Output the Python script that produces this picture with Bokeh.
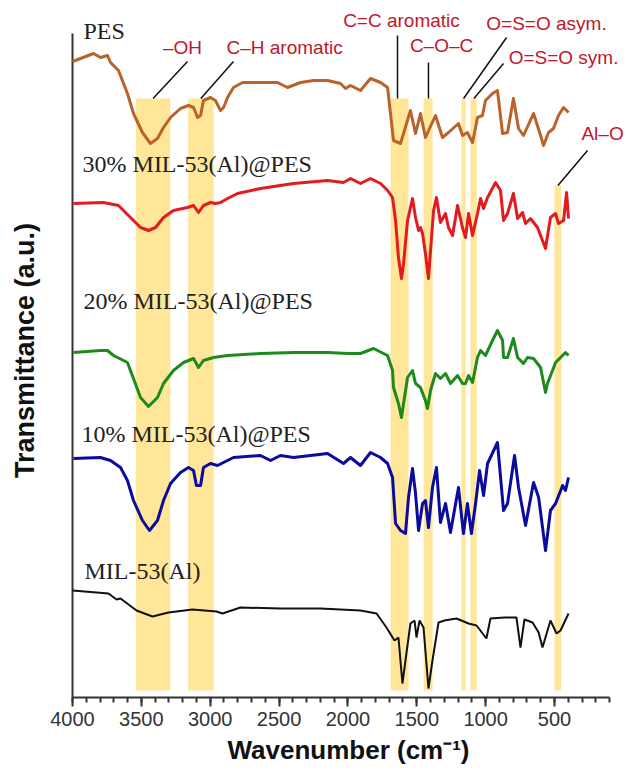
from bokeh.plotting import figure
from bokeh.models import Range1d, FixedTicker, Label
from bokeh.embed import file_html
from bokeh.resources import INLINE

# ---------------- data (wavenumber cm-1, transmittance a.u.) ----------------
pes_wn = [4000, 3942, 3847, 3797, 3746, 3724, 3666, 3601, 3557, 3492, 3434, 3383, 3339, 3288, 3216, 3158,
          3121, 3092, 3070, 3049, 2998, 2962, 2925, 2903, 2874, 2831, 2765, 2635, 2511, 2439, 2344, 2250,
          2148, 2054, 2017, 1981, 1909, 1836, 1763, 1712, 1669, 1618, 1546, 1509, 1473, 1437, 1364, 1313,
          1270, 1197, 1168, 1132, 1095, 1059, 1023, 1001, 950, 914, 877, 841, 798, 761, 725, 652, 601,
          580, 543, 507, 471, 434, 398]
pes_t = [636, 639, 644, 640, 642, 635, 627, 604, 584, 565, 554, 559, 570, 580, 589, 592,
         590, 580, 582, 597, 600, 597, 587, 590, 600, 610, 615, 615, 615, 610, 615, 617,
         617, 614, 609, 612, 607, 619, 615, 610, 557, 554, 587, 564, 584, 560, 582, 560,
         565, 574, 562, 565, 555, 580, 582, 597, 604, 607, 564, 565, 599, 569, 562, 584, 562,
         552, 565, 569, 582, 590, 585]

m30_wn = [3993, 3775, 3666, 3579, 3506, 3448, 3397, 3339, 3267, 3165, 3121, 3085, 3049, 2998, 2962, 2925,
          2874, 2802, 2635, 2395, 2148, 2032, 1981, 1909, 1836, 1763, 1712, 1676, 1654, 1633, 1611, 1596,
          1567, 1531, 1509, 1487, 1473, 1458, 1437, 1415, 1400, 1378, 1357, 1328, 1291, 1270, 1240, 1204,
          1168, 1146, 1124, 1095, 1059, 1037, 1015, 986, 928, 892, 870, 841, 798, 768, 732, 710, 674,
          623, 565, 529, 492, 471, 434, 412, 398]
m30_t = [494, 495, 492, 480, 470, 467, 470, 480, 487, 490, 492, 485, 492, 495, 494, 495,
         499, 504, 509, 514, 517, 515, 519, 514, 519, 514, 507, 500, 477, 440, 419, 434,
         477, 499, 480, 467, 470, 464, 444, 419, 447, 487, 500, 475, 484, 470, 462, 492,
         470, 460, 484, 462, 484, 499, 489, 500, 515, 507, 477, 484, 504, 479, 485, 474, 479,
         470, 449, 480, 484, 474, 477, 505, 479]

m20_wn = [3993, 3797, 3746, 3702, 3601, 3579, 3506, 3448, 3383, 3339, 3267, 3194, 3121, 3085, 3049, 2976,
          2874, 2635, 2395, 2148, 2003, 1909, 1814, 1712, 1676, 1669, 1633, 1611, 1596, 1567, 1531, 1509,
          1473, 1437, 1422, 1400, 1364, 1328, 1291, 1255, 1204, 1168, 1146, 1124, 1095, 1059, 1037, 1001,
          950, 914, 877, 870, 841, 798, 768, 725, 696, 652, 601, 565, 551, 514, 492, 456, 420, 398]
m20_t = [345, 347, 347, 342, 335, 327, 300, 291, 300, 314, 327, 335, 339, 330, 337, 340,
         342, 344, 345, 345, 344, 344, 349, 342, 327, 310, 294, 280, 294, 320, 327, 314,
         310, 297, 289, 307, 324, 319, 324, 314, 322, 314, 314, 322, 315, 340, 347, 342,
         357, 367, 357, 340, 340, 359, 340, 334, 340, 339, 330, 305, 314, 327, 335, 340, 345, 342]

m10_wn = [3993, 3797, 3724, 3651, 3601, 3557, 3492, 3441, 3383, 3339, 3288, 3216, 3158, 3121, 3100, 3070,
          3049, 2998, 2947, 2831, 2635, 2562, 2490, 2395, 2148, 2032, 1981, 1909, 1836, 1763, 1712, 1676,
          1654, 1618, 1582, 1560, 1531, 1509, 1487, 1458, 1437, 1415, 1386, 1357, 1328, 1291, 1255, 1197,
          1161, 1132, 1103, 1073, 1044, 1015, 986, 914, 870, 841, 790, 761, 710, 652, 615, 565, 529,
          492, 441, 420, 398]
m10_t = [239, 240, 237, 230, 217, 197, 177, 167, 177, 197, 214, 225, 230, 227, 212, 212,
         230, 234, 232, 240, 242, 237, 242, 240, 244, 234, 240, 232, 245, 240, 234, 220,
         174, 167, 164, 200, 229, 204, 167, 194, 197, 170, 210, 230, 175, 194, 165, 210,
         164, 194, 164, 194, 227, 202, 234, 255, 187, 194, 242, 210, 172, 215, 200, 147, 187,
         194, 212, 207, 220]

mil_wn = [4000, 3739, 3680, 3651, 3535, 3419, 3303, 3129, 2954, 2911, 2780, 2490, 2199, 1909, 1792, 1720,
          1662, 1633, 1604, 1582, 1546, 1516, 1502, 1480, 1451, 1415, 1386, 1342, 1299, 1211, 1124, 1066,
          994, 965, 863, 776, 747, 718, 659, 615, 587, 529, 485, 456, 398]
mil_t = [107, 104, 98, 99, 87, 81, 85, 88, 86, 84, 90, 89, 89, 87, 84, 70,
         57, 60, 14, 37, 74, 77, 60, 77, 70, 9, 37, 75, 77, 79, 74, 72,
         59, 79, 80, 80, 50, 78, 75, 65, 50, 77, 64, 67, 84]

# highlighted bands (cm-1)
band_names = ["-OH", "C-H aromatic", "C=C aromatic", "C-O-C", "O=S=O asym.", "O=S=O sym.", "Al-O"]
band_hi = [3540, 3160, 1690, 1450, 1175, 1110, 500]
band_lo = [3290, 2975, 1560, 1385, 1145, 1065, 450]

series_names = ["PES", "30% MIL-53(Al)@PES", "20% MIL-53(Al)@PES", "10% MIL-53(Al)@PES", "MIL-53(Al)"]
x_ticks = [4000, 3500, 3000, 2500, 2000, 1500, 1000, 500]
X_START, X_END = 4000, 100      # drawn x axis extent
Y_TOP = 664                     # drawn y axis extent (a.u.)

# ---------------- layout / styles ----------------
BAND_TOP = [599, 599, 599, 599, 599, 599, 512]
BAND_BOTTOM = 7
band_color = "#FFE699"
ann_color = "#C0172D"
axis_color = "#333333"

p = figure(width=626, height=771, x_range=Range1d(4014.5, -23), y_range=Range1d(-3, 697),
           output_backend="svg", toolbar_location=None,
           min_border_left=70, min_border_right=0, min_border_top=0, min_border_bottom=71)
p.outline_line_color = None
p.xgrid.visible = False
p.ygrid.visible = False
p.background_fill_color = "white"
p.border_fill_color = "white"

# bands
p.quad(left=band_hi, right=band_lo, top=BAND_TOP, bottom=[BAND_BOTTOM] * len(band_hi),
       fill_color=band_color, line_color=None)

# axis lines (drawn so that they stop where the reference's axes stop)
p.segment(x0=[X_START, X_START], y0=[0, 0], x1=[X_END, X_START], y1=[0, Y_TOP],
          line_color=axis_color, line_width=2)

# spectra
p.line(mil_wn, mil_t, line_color="#111111", line_width=2)
p.line(m10_wn, m10_t, line_color="#0B0B9C", line_width=3, line_join="round")
p.line(m20_wn, m20_t, line_color="#1E8A1E", line_width=3, line_join="round")
p.line(m30_wn, m30_t, line_color="#E31B1F", line_width=3, line_join="round")
p.line(pes_wn, pes_t, line_color="#B9622A", line_width=3, line_join="round")

# leader lines
lead_x0 = [3165, 2831, 1640, 1415, 848, 870, 260]
lead_y0 = [636, 636, 662, 635, 660, 634, 547]
lead_x1 = [3415, 3068, 1640, 1415, 1160, 1085, 475]
lead_y1 = [599, 599, 599, 599, 599, 599, 512]
p.segment(x0=lead_x0, y0=lead_y0, x1=lead_x1, y1=lead_y1, line_color="#111111", line_width=1.5)

# annotation texts
ann_text = ["\u2013OH", "C\u2013H aromatic", "C=C aromatic", "C\u2013O\u2013C", "O=S=O asym.", "O=S=O sym.", "Al\u2013O"]
ann_x = [3201, 2460, 1611, 1320, 558, 434, 151]
ann_y = [650, 650, 677, 652, 674, 640, 564]
for t, x, y in zip(ann_text, ann_x, ann_y):
    p.add_layout(Label(x=x, y=y, text=t, text_align="center", text_baseline="middle",
                       text_font="Liberation Sans", text_font_size="19px", text_color=ann_color))

# series labels
lab_x = [3920, 3927, 3920, 3935, 3913]
lab_y = [667, 534, 397, 264, 127]
for t, x, y in zip(series_names, lab_x, lab_y):
    p.add_layout(Label(x=x, y=y, text=t, text_align="left", text_baseline="middle",
                       text_font="Liberation Serif", text_font_size="24px", text_color="#222222"))

# axes
xa = p.xaxis[0]
xa.ticker = FixedTicker(ticks=x_ticks, minor_ticks=list(range(100, 4001, 100)))
xa.axis_label = "Wavenumber (cm\u207b\u00b9)"
xa.axis_label_text_font = "Liberation Sans"
xa.axis_label_text_font_style = "bold"
xa.axis_label_text_font_size = "26px"
xa.axis_label_text_color = "#111111"
xa.axis_label_standoff = 6
xa.major_label_text_font = "Liberation Sans"
xa.major_label_text_font_size = "20px"
xa.major_label_text_color = axis_color
xa.major_label_standoff = 5
xa.axis_line_color = None
xa.major_tick_line_width = 2
xa.minor_tick_line_width = 2
xa.major_tick_line_color = axis_color
xa.minor_tick_line_color = axis_color
xa.major_tick_in = 3
xa.major_tick_out = 6
xa.minor_tick_in = 3
xa.minor_tick_out = 2

ya = p.yaxis[0]
ya.ticker = FixedTicker(ticks=[])
ya.axis_label = "Transmittance (a.u.)"
ya.axis_label_text_font = "Liberation Sans"
ya.axis_label_text_font_style = "bold"
ya.axis_label_text_font_size = "27px"
ya.axis_label_text_color = "#111111"
ya.axis_label_standoff = 31
ya.axis_line_color = None
ya.major_tick_line_color = None
ya.minor_tick_line_color = None

open("out.html", "w").write(file_html(p, INLINE))
